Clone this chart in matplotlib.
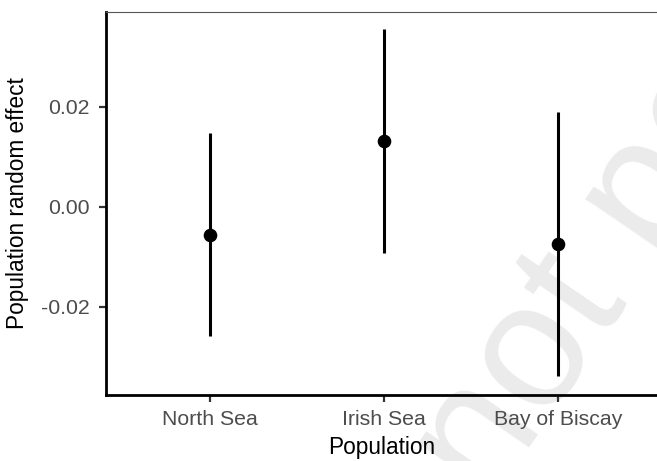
import matplotlib
matplotlib.use("Agg")
import matplotlib.pyplot as plt

populations = ["North Sea", "Irish Sea", "Bay of Biscay"]
estimate = [-0.0056, 0.0132, -0.0075]
lower = [-0.0258, -0.0093, -0.0339]
upper = [0.0147, 0.0355, 0.0189]
y_ticks = [-0.02, 0.00, 0.02]
y_tick_labels = ["-0.02", "0.00", "0.02"]

plt.rcParams["font.family"] = ["Liberation Sans", "DejaVu Sans"]

fig = plt.figure(figsize=(6.57, 4.61), dpi=100)
ax = fig.add_axes([0.1613, 0.1432, 0.8387, 0.8308])

x = list(range(1, len(populations) + 1))

# faint watermark behind everything else
fig.text(0.745, -0.0976, "not peer reviewed", fontsize=128, color="#ebebeb",
         rotation=55.6, rotation_mode="anchor", ha="left", va="baseline",
         zorder=-5)
ax.set_facecolor("none")

ax.vlines(x, lower, upper, color="black", lw=2.2, zorder=3)
ax.plot(x, estimate, "o", color="black", ms=8.8, zorder=4)

ax.set_xlim(0.4, 3.569)
ax.set_ylim(-0.0376, 0.039)
ax.set_xticks(x)
ax.set_xticklabels(populations)
ax.set_yticks(y_ticks)
ax.set_yticklabels(y_tick_labels)

for side in ["left", "bottom"]:
    ax.spines[side].set_linewidth(2.0)
    ax.spines[side].set_color("black")
ax.spines["right"].set_visible(False)
ax.spines["top"].set_linewidth(0.8)
ax.spines["top"].set_color("#555555")

ax.tick_params(axis="both", length=5, width=1.6, color="#333333",
               labelcolor="#4d4d4d", labelsize=15.3)
ax.tick_params(axis="x", pad=6)
ax.tick_params(axis="y", pad=7)

ax.set_xlabel("Population", fontsize=16.3, labelpad=5)
ax.set_ylabel("Population random effect", fontsize=16.3, labelpad=8)

fig.savefig("out.png", dpi=100)
